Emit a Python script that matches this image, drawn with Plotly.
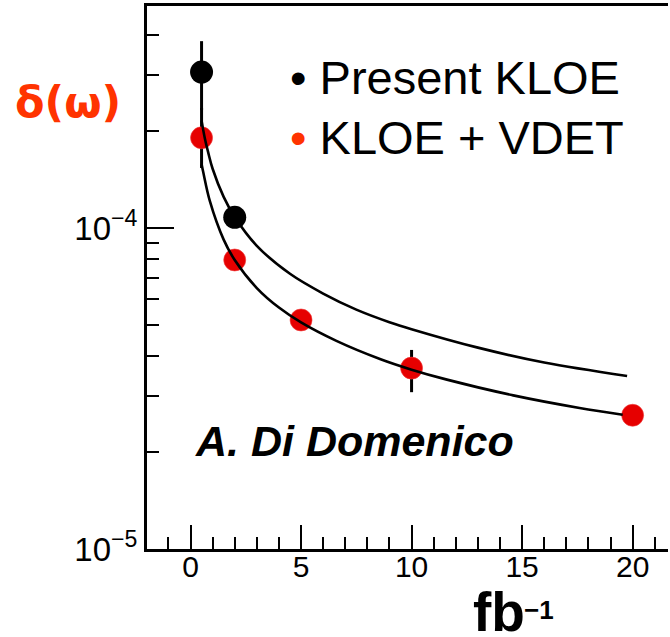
import plotly.graph_objects as go

# ---- data ----
black_x = [0.5, 2.0]
black_y = [3.06e-4, 1.08e-4]
black_err_hi = [0.76e-4, 0.0]
black_err_lo = [0.73e-4, 0.0]

red_x = [0.5, 2.0, 5.0, 10.0, 20.0]
red_y = [1.91e-4, 7.95e-5, 5.17e-5, 3.66e-5, 2.61e-5]
red_err_hi = [0.456e-4, 0.0, 0.0, 0.51e-5, 0.0]
red_err_lo = [0.372e-4, 0.0, 0.0, 0.58e-5, 0.0]

# fitted curves
fit_black_x = [0.5, 0.65, 0.8, 1.0, 1.5, 2.0, 3.0, 4.5, 6.0, 7.5, 9.0, 10.0, 13.0, 16.0, 19.75]
fit_black_y = [2.16e-4, 1.90e-4, 1.72e-4, 1.53e-4, 1.25e-4, 1.082e-4, 8.8e-5, 7.2e-5,
               6.25e-5, 5.57e-5, 5.09e-5, 4.84e-5, 4.24e-5, 3.81e-5, 3.46e-5]
fit_red_x = [0.5, 0.57, 0.88, 1.5, 2.0, 3.0, 4.0, 5.0, 6.6, 8.6, 10.0, 11.6, 14.6, 17.6, 19.55]
fit_red_y = [1.58e-4, 1.50e-4, 1.21e-4, 9.2e-5, 7.95e-5, 6.5e-5, 5.65e-5, 5.08e-5,
             4.45e-5, 3.9e-5, 3.62e-5, 3.37e-5, 3.01e-5, 2.75e-5, 2.62e-5]

x_major = [0, 5, 10, 15, 20]
x_major_text = ["0", "5", "10", "15", "20"]
y_major = [1e-5, 1e-4]
y_major_text = ["10<sup>\u22125</sup>", "10<sup>\u22124</sup>"]
y_minor = [2e-5, 3e-5, 4e-5, 5e-5, 6e-5, 7e-5, 8e-5, 9e-5, 2e-4, 3e-4, 4e-4]

legend_labels = ["Present KLOE", "KLOE + VDET"]
ylabel = "\u03b4(\u03c9)"
author = "A. Di Domenico"

RED = "#e60000"
ORANGE = "#ff3300"
XRANGE = [-1.968, 21.6]

fig = go.Figure()

fig.add_trace(go.Scatter(
    x=black_x, y=black_y, mode="markers",
    marker=dict(color="black", size=23),
    error_y=dict(type="data", symmetric=False, array=black_err_hi,
                 arrayminus=black_err_lo, color="black", thickness=3, width=0),
    showlegend=False))
fig.add_trace(go.Scatter(
    x=red_x, y=red_y, mode="markers",
    marker=dict(color=RED, size=22, line=dict(color="rgba(240,60,60,0.6)", width=1)),
    error_y=dict(type="data", symmetric=False, array=red_err_hi,
                 arrayminus=red_err_lo, color="black", thickness=3, width=0),
    showlegend=False))
fig.add_trace(go.Scatter(
    x=fit_black_x, y=fit_black_y, mode="lines",
    line=dict(color="black", width=2.6, shape="spline", smoothing=1.0),
    showlegend=False))
fig.add_trace(go.Scatter(
    x=fit_red_x, y=fit_red_y, mode="lines",
    line=dict(color="black", width=2.6, shape="spline", smoothing=1.0),
    showlegend=False))
# invisible companion trace that carries the tick-label axis
fig.add_trace(go.Scatter(
    x=red_x, y=red_y, xaxis="x2", mode="markers",
    marker=dict(opacity=0), hoverinfo="skip", showlegend=False))

L, R, T, B = 147, 2, 6, 88
W, H = 670, 637
pw, ph = W - L - R, H - T - B


def px(xp):
    return (xp - L) / pw


def py(yp):
    return (H - B - yp) / ph


fig.update_layout(
    xaxis=dict(
        range=XRANGE, showgrid=False, zeroline=False,
        showline=True, linecolor="black", linewidth=3, mirror=True,
        ticks="inside", ticklen=24, tickwidth=2, tickcolor="black",
        tickvals=x_major, showticklabels=False,
        minor=dict(ticks="inside", ticklen=12, tickwidth=2, tickcolor="black",
                   dtick=1, tick0=0),
    ),
    xaxis2=dict(
        range=XRANGE, overlaying="x", anchor="free", position=py(546),
        side="bottom", showgrid=False, zeroline=False, showline=False,
        ticks="", tickvals=x_major, ticktext=x_major_text,
        tickfont=dict(family="Liberation Sans", size=30, color="black"),
    ),
    yaxis=dict(
        type="log", range=[-5, -3.3084], showgrid=False, zeroline=False,
        showline=True, linecolor="black", linewidth=3,
        ticks="inside", ticklen=27, tickwidth=2, tickcolor="black",
        tickvals=y_major, ticktext=y_major_text,
        tickfont=dict(family="Liberation Sans", size=33, color="black"),
        minor=dict(ticks="inside", ticklen=12, tickwidth=2, tickcolor="black",
                   tickvals=y_minor),
    ),
)

annos = [
    dict(x=px(68), y=py(102), text="<b>" + ylabel + "</b>", xanchor="center", yanchor="middle",
         font=dict(family="DejaVu Sans", size=43, color=ORANGE)),
    dict(x=px(288), y=py(77), text="<span style='color:black'>\u2022</span> " + legend_labels[0],
         xanchor="left", yanchor="middle",
         font=dict(family="Liberation Sans", size=47, color="black")),
    dict(x=px(288), y=py(137), text="<span style='color:%s'>\u2022</span> " % ORANGE + legend_labels[1],
         xanchor="left", yanchor="middle",
         font=dict(family="Liberation Sans", size=47, color="black")),
    dict(x=px(193), y=py(441), text="<b><i>" + author + "</i></b>",
         xanchor="left", yanchor="middle",
         font=dict(family="Liberation Sans", size=43, color="black")),
    dict(x=px(471), y=py(612), text="<b>fb</b>", xanchor="left", yanchor="middle",
         font=dict(family="Liberation Sans", size=55, color="black")),
    dict(x=px(522), y=py(610), text="<b>\u22121</b>", xanchor="left", yanchor="middle",
         font=dict(family="Liberation Sans", size=26, color="black")),
]
for a in annos:
    a.update(xref="paper", yref="paper", showarrow=False)

fig.update_layout(
    width=W, height=H, margin=dict(l=L, r=R, t=T, b=B),
    plot_bgcolor="white", paper_bgcolor="white",
    annotations=annos,
    shapes=[dict(type="rect", xref="paper", yref="paper", layer="above",
                 x0=-0.4, x1=1.1, y0=py(700), y1=py(582),
                 fillcolor="white", line=dict(width=0))],
)

fig.write_html("out.html")
